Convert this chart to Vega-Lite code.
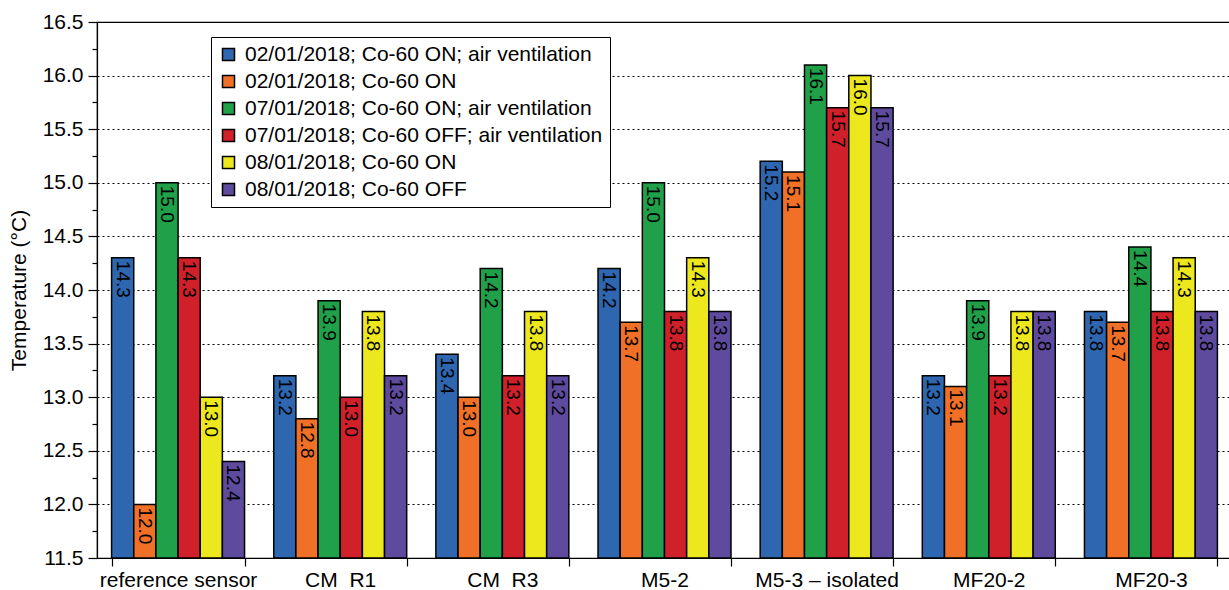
{
  "$schema": "https://vega.github.io/schema/vega-lite/v6.json",
  "width": 1135,
  "height": 536,
  "autosize": {"type": "none"},
  "padding": {"left": 97, "top": 22, "right": 0, "bottom": 32},
  "background": "white",
  "config": {
    "font": "Liberation Sans",
    "view": {"stroke": "black", "strokeWidth": 1.2},
    "axis": {"domainColor": "black", "tickColor": "black", "labelColor": "black", "titleColor": "black", "labelFont": "Liberation Sans", "titleFont": "Liberation Sans", "titleFontWeight": "normal"}
  },
  "data": {"values": [
    {"group": "reference sensor", "series": "02/01/2018; Co-60 ON; air ventilation", "value": 14.3},
    {"group": "reference sensor", "series": "02/01/2018; Co-60 ON", "value": 12.0},
    {"group": "reference sensor", "series": "07/01/2018; Co-60 ON; air ventilation", "value": 15.0},
    {"group": "reference sensor", "series": "07/01/2018; Co-60 OFF; air ventilation", "value": 14.3},
    {"group": "reference sensor", "series": "08/01/2018; Co-60 ON", "value": 13.0},
    {"group": "reference sensor", "series": "08/01/2018; Co-60 OFF", "value": 12.4},
    {"group": "CM_R1", "series": "02/01/2018; Co-60 ON; air ventilation", "value": 13.2},
    {"group": "CM_R1", "series": "02/01/2018; Co-60 ON", "value": 12.8},
    {"group": "CM_R1", "series": "07/01/2018; Co-60 ON; air ventilation", "value": 13.9},
    {"group": "CM_R1", "series": "07/01/2018; Co-60 OFF; air ventilation", "value": 13.0},
    {"group": "CM_R1", "series": "08/01/2018; Co-60 ON", "value": 13.8},
    {"group": "CM_R1", "series": "08/01/2018; Co-60 OFF", "value": 13.2},
    {"group": "CM_R3", "series": "02/01/2018; Co-60 ON; air ventilation", "value": 13.4},
    {"group": "CM_R3", "series": "02/01/2018; Co-60 ON", "value": 13.0},
    {"group": "CM_R3", "series": "07/01/2018; Co-60 ON; air ventilation", "value": 14.2},
    {"group": "CM_R3", "series": "07/01/2018; Co-60 OFF; air ventilation", "value": 13.2},
    {"group": "CM_R3", "series": "08/01/2018; Co-60 ON", "value": 13.8},
    {"group": "CM_R3", "series": "08/01/2018; Co-60 OFF", "value": 13.2},
    {"group": "M5-2", "series": "02/01/2018; Co-60 ON; air ventilation", "value": 14.2},
    {"group": "M5-2", "series": "02/01/2018; Co-60 ON", "value": 13.7},
    {"group": "M5-2", "series": "07/01/2018; Co-60 ON; air ventilation", "value": 15.0},
    {"group": "M5-2", "series": "07/01/2018; Co-60 OFF; air ventilation", "value": 13.8},
    {"group": "M5-2", "series": "08/01/2018; Co-60 ON", "value": 14.3},
    {"group": "M5-2", "series": "08/01/2018; Co-60 OFF", "value": 13.8},
    {"group": "M5-3 – isolated", "series": "02/01/2018; Co-60 ON; air ventilation", "value": 15.2},
    {"group": "M5-3 – isolated", "series": "02/01/2018; Co-60 ON", "value": 15.1},
    {"group": "M5-3 – isolated", "series": "07/01/2018; Co-60 ON; air ventilation", "value": 16.1},
    {"group": "M5-3 – isolated", "series": "07/01/2018; Co-60 OFF; air ventilation", "value": 15.7},
    {"group": "M5-3 – isolated", "series": "08/01/2018; Co-60 ON", "value": 16.0},
    {"group": "M5-3 – isolated", "series": "08/01/2018; Co-60 OFF", "value": 15.7},
    {"group": "MF20-2", "series": "02/01/2018; Co-60 ON; air ventilation", "value": 13.2},
    {"group": "MF20-2", "series": "02/01/2018; Co-60 ON", "value": 13.1},
    {"group": "MF20-2", "series": "07/01/2018; Co-60 ON; air ventilation", "value": 13.9},
    {"group": "MF20-2", "series": "07/01/2018; Co-60 OFF; air ventilation", "value": 13.2},
    {"group": "MF20-2", "series": "08/01/2018; Co-60 ON", "value": 13.8},
    {"group": "MF20-2", "series": "08/01/2018; Co-60 OFF", "value": 13.8},
    {"group": "MF20-3", "series": "02/01/2018; Co-60 ON; air ventilation", "value": 13.8},
    {"group": "MF20-3", "series": "02/01/2018; Co-60 ON", "value": 13.7},
    {"group": "MF20-3", "series": "07/01/2018; Co-60 ON; air ventilation", "value": 14.4},
    {"group": "MF20-3", "series": "07/01/2018; Co-60 OFF; air ventilation", "value": 13.8},
    {"group": "MF20-3", "series": "08/01/2018; Co-60 ON", "value": 14.3},
    {"group": "MF20-3", "series": "08/01/2018; Co-60 OFF", "value": 13.8}
  ]},
  "encoding": {
    "x": {
      "field": "group", "type": "nominal", "sort": null,
      "scale": {"paddingInner": 0.18, "paddingOuter": 0.09},
      "axis": {"title": null, "labelAngle": 0, "labelFontSize": 21, "labelPadding": 3, "labelBaseline": "top", "tickBand": "extent", "tickSize": 8, "domainWidth": 1.2, "tickWidth": 1.2}
    },
    "xOffset": {
      "field": "series", "type": "nominal", "sort": null,
      "scale": {"paddingInner": 0, "paddingOuter": 0}
    }
  },
  "layer": [
    {
      "mark": {"type": "bar", "stroke": "black", "strokeWidth": 1.5},
      "encoding": {
        "y": {
          "field": "value", "type": "quantitative",
          "scale": {"domain": [11.5, 16.5], "zero": false, "nice": false},
          "axis": {"orient": "left", "values": [11.5, 12, 12.5, 13, 13.5, 14, 14.5, 15, 15.5, 16, 16.5], "format": ".1f", "title": "Temperature (°C)", "titleFontSize": 21, "titlePadding": 13, "labelFontSize": 21, "labelPadding": 5, "tickSize": 9, "domainWidth": 1.2, "tickWidth": 1.2, "grid": true, "gridColor": "black", "gridDash": [2, 3], "gridWidth": 1, "gridOpacity": 1}
        },
        "y2": {"datum": 11.5},
        "color": {
          "field": "series", "type": "nominal",
          "scale": {
            "domain": ["02/01/2018; Co-60 ON; air ventilation", "02/01/2018; Co-60 ON", "07/01/2018; Co-60 ON; air ventilation", "07/01/2018; Co-60 OFF; air ventilation", "08/01/2018; Co-60 ON", "08/01/2018; Co-60 OFF"],
            "range": ["#2E66B0", "#F07028", "#21A04A", "#D0202A", "#EDE81E", "#5E4B9E"]
          },
          "legend": {
            "title": null, "orient": "none", "legendX": 114, "legendY": 15,
            "fillColor": "white", "strokeColor": "black", "padding": 7,
            "symbolType": "square", "symbolSize": 144, "symbolStrokeColor": "black", "symbolStrokeWidth": 1.5, "symbolOpacity": 1,
            "labelFontSize": 21, "labelColor": "black", "labelFont": "Liberation Sans", "labelLimit": 500, "rowPadding": 5, "labelOffset": 6
          }
        }
      }
    },
    {
      "mark": {"type": "text", "angle": 90, "align": "left", "baseline": "middle", "dx": 3, "fontSize": 19, "color": "black", "font": "Liberation Sans"},
      "encoding": {
        "y": {
          "field": "value", "type": "quantitative",
          "axis": {"orient": "left", "values": [11.75, 12.25, 12.75, 13.25, 13.75, 14.25, 14.75, 15.25, 15.75, 16.25], "labels": false, "grid": false, "domain": false, "tickSize": 5, "tickWidth": 1.2, "title": null}
        },
        "text": {"field": "value", "type": "quantitative", "format": ".1f"}
      }
    }
  ],
  "resolve": {"axis": {"y": "independent"}}
}
